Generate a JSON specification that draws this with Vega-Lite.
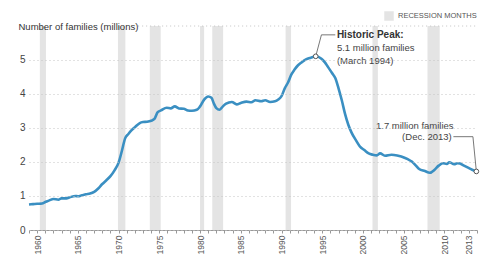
{
  "$schema": "https://vega.github.io/schema/vega-lite/v6.json",
  "width": 448,
  "height": 204,
  "autosize": {"type": "none"},
  "padding": {"left": 29, "top": 26, "right": 21, "bottom": 33},
  "background": "white",
  "config": {
    "font": "Liberation Sans",
    "view": {"stroke": null},
    "axisX": {
      "tickCount": 55,
      "labelExpr": "(datum.value % 5 === 0 || datum.value === 2013) ? format(datum.value, 'd') : ''",
      "labelOverlap": false, "labelAngle": 270, "labelFontSize": 8.5, "labelColor": "#555",
      "labelPadding": 2, "tickSize": 3, "tickColor": "#999", "domainColor": "#999",
      "grid": false
    },
    "axisY": {
      "tickCount": 6,
      "format": "d",
      "titleAngle": 0, "titleAlign": "left", "titleBaseline": "middle",
      "titleX": -11, "titleY": 0, "titleFontSize": 9.5, "titleFontWeight": "normal", "titleColor": "#333",
      "labelFontSize": 10, "labelColor": "#444", "labelPadding": 4,
      "ticks": false, "domain": false,
      "grid": true, "gridColor": "#c4c4c4", "gridDash": [1, 3], "gridWidth": 1
    }
  },
  "datasets": {
    "recessions": [
      {"start": 1960.33, "end": 1961.08, "label": "RECESSION MONTHS"},
      {"start": 1969.92, "end": 1970.83, "label": "RECESSION MONTHS"},
      {"start": 1973.83, "end": 1975.17, "label": "RECESSION MONTHS"},
      {"start": 1980.0, "end": 1980.5, "label": "RECESSION MONTHS"},
      {"start": 1981.5, "end": 1982.83, "label": "RECESSION MONTHS"},
      {"start": 1990.5, "end": 1991.17, "label": "RECESSION MONTHS"},
      {"start": 2001.17, "end": 2001.83, "label": "RECESSION MONTHS"},
      {"start": 2007.92, "end": 2009.42, "label": "RECESSION MONTHS"}
    ],
    "series": [
      {"year": 1959.0, "value": 0.75}, {"year": 1959.5, "value": 0.76}, {"year": 1960.0, "value": 0.77},
      {"year": 1960.6, "value": 0.78}, {"year": 1961.0, "value": 0.82}, {"year": 1961.5, "value": 0.87},
      {"year": 1962.0, "value": 0.91}, {"year": 1962.6, "value": 0.89}, {"year": 1963.0, "value": 0.93},
      {"year": 1963.6, "value": 0.93}, {"year": 1964.0, "value": 0.96}, {"year": 1964.7, "value": 1.0},
      {"year": 1965.0, "value": 0.99}, {"year": 1965.5, "value": 1.02}, {"year": 1966.0, "value": 1.05},
      {"year": 1966.5, "value": 1.07}, {"year": 1967.0, "value": 1.12}, {"year": 1967.5, "value": 1.22},
      {"year": 1968.0, "value": 1.35}, {"year": 1968.5, "value": 1.46}, {"year": 1969.0, "value": 1.58},
      {"year": 1969.5, "value": 1.75}, {"year": 1970.0, "value": 1.98}, {"year": 1970.4, "value": 2.32},
      {"year": 1970.8, "value": 2.69}, {"year": 1971.2, "value": 2.82}, {"year": 1971.6, "value": 2.93},
      {"year": 1972.0, "value": 3.02}, {"year": 1972.6, "value": 3.14}, {"year": 1973.0, "value": 3.17},
      {"year": 1973.5, "value": 3.18}, {"year": 1974.0, "value": 3.21}, {"year": 1974.4, "value": 3.26},
      {"year": 1974.8, "value": 3.46}, {"year": 1975.2, "value": 3.51}, {"year": 1975.9, "value": 3.59},
      {"year": 1976.4, "value": 3.57}, {"year": 1976.9, "value": 3.63}, {"year": 1977.4, "value": 3.57},
      {"year": 1978.0, "value": 3.56}, {"year": 1978.5, "value": 3.51}, {"year": 1979.0, "value": 3.5},
      {"year": 1979.6, "value": 3.53}, {"year": 1980.0, "value": 3.63}, {"year": 1980.5, "value": 3.83},
      {"year": 1981.0, "value": 3.92}, {"year": 1981.4, "value": 3.88}, {"year": 1981.7, "value": 3.71},
      {"year": 1982.0, "value": 3.58}, {"year": 1982.4, "value": 3.53}, {"year": 1982.8, "value": 3.63},
      {"year": 1983.2, "value": 3.71}, {"year": 1983.9, "value": 3.76}, {"year": 1984.5, "value": 3.69},
      {"year": 1985.0, "value": 3.73}, {"year": 1985.7, "value": 3.77}, {"year": 1986.3, "value": 3.75},
      {"year": 1986.8, "value": 3.81}, {"year": 1987.5, "value": 3.78}, {"year": 1988.0, "value": 3.81},
      {"year": 1988.6, "value": 3.76}, {"year": 1989.2, "value": 3.78}, {"year": 1989.6, "value": 3.83},
      {"year": 1990.0, "value": 3.93}, {"year": 1990.4, "value": 4.16}, {"year": 1990.8, "value": 4.33},
      {"year": 1991.2, "value": 4.56}, {"year": 1991.6, "value": 4.71}, {"year": 1992.0, "value": 4.83},
      {"year": 1992.4, "value": 4.91}, {"year": 1993.0, "value": 5.01}, {"year": 1993.6, "value": 5.06},
      {"year": 1994.2, "value": 5.1}, {"year": 1994.9, "value": 5.03}, {"year": 1995.3, "value": 4.93},
      {"year": 1995.7, "value": 4.79}, {"year": 1996.2, "value": 4.61}, {"year": 1996.6, "value": 4.46},
      {"year": 1997.0, "value": 4.16}, {"year": 1997.4, "value": 3.81}, {"year": 1997.8, "value": 3.41},
      {"year": 1998.2, "value": 3.09}, {"year": 1998.6, "value": 2.86}, {"year": 1999.2, "value": 2.61},
      {"year": 1999.6, "value": 2.46}, {"year": 2000.2, "value": 2.34}, {"year": 2000.7, "value": 2.25},
      {"year": 2001.2, "value": 2.21}, {"year": 2001.7, "value": 2.19}, {"year": 2002.1, "value": 2.25},
      {"year": 2002.7, "value": 2.18}, {"year": 2003.5, "value": 2.21}, {"year": 2004.2, "value": 2.19},
      {"year": 2004.7, "value": 2.16}, {"year": 2005.5, "value": 2.08}, {"year": 2006.0, "value": 2.01},
      {"year": 2006.5, "value": 1.89}, {"year": 2006.9, "value": 1.79}, {"year": 2007.6, "value": 1.73},
      {"year": 2008.2, "value": 1.68}, {"year": 2008.8, "value": 1.77}, {"year": 2009.3, "value": 1.89},
      {"year": 2009.8, "value": 1.96}, {"year": 2010.3, "value": 1.94}, {"year": 2010.6, "value": 1.99},
      {"year": 2011.2, "value": 1.93}, {"year": 2011.6, "value": 1.96}, {"year": 2011.9, "value": 1.95},
      {"year": 2012.4, "value": 1.89}, {"year": 2012.9, "value": 1.83}, {"year": 2013.4, "value": 1.77},
      {"year": 2013.92, "value": 1.72}
    ],
    "markers": [
      {"year": 1994.2, "value": 5.1},
      {"year": 2013.92, "value": 1.72}
    ],
    "leaders": [
      {"grp": "peak", "order": 1, "year": 1994.2, "value": 5.1},
      {"grp": "peak", "order": 2, "year": 1994.9, "value": 5.73},
      {"grp": "peak", "order": 3, "year": 1996.6, "value": 5.73},
      {"grp": "end", "order": 1, "year": 2011.1, "value": 2.74},
      {"grp": "end", "order": 2, "year": 2013.5, "value": 2.74},
      {"grp": "end", "order": 3, "year": 2013.92, "value": 1.72}
    ],
    "topGrid": [{"start": 1972.4, "end": 2014, "value": 5.99}],
    "peakTitle": [{"year": 1996.8, "value": 5.73, "text": "Historic Peak:"}],
    "peakText": [
      {"year": 1996.8, "value": 5.35, "text": "5.1 million families"},
      {"year": 1996.8, "value": 4.97, "text": "(March 1994)"}
    ],
    "endText1": [{"year": 2001.6, "value": 3.06, "text": "1.7 million families"}],
    "endText2": [{"year": 2010.9, "value": 2.74, "text": "(Dec. 2013)"}]
  },
  "layer": [
    {
      "data": {"name": "recessions"},
      "mark": {"type": "rect"},
      "encoding": {
        "x": {"field": "start", "type": "quantitative", "title": null, "scale": {"domain": [1959, 2014], "nice": false, "zero": false}},
        "x2": {"field": "end"},
        "fill": {
          "field": "label", "type": "nominal",
          "scale": {"domain": ["RECESSION MONTHS"], "range": ["#e4e4e4"]},
          "legend": {
            "title": null, "orient": "none", "legendX": 355, "legendY": -15,
            "padding": 0, "symbolType": "square", "symbolSize": 90, "symbolStrokeWidth": 0,
            "labelFontSize": 7.5, "labelColor": "#555", "labelOffset": 4
          }
        }
      }
    },
    {
      "data": {"name": "topGrid"},
      "mark": {"type": "rule", "color": "#c4c4c4", "strokeDash": [1, 3], "strokeWidth": 1},
      "encoding": {
        "x": {"field": "start", "type": "quantitative", "title": null, "scale": {"domain": [1959, 2014], "nice": false, "zero": false}},
        "x2": {"field": "end"},
        "y": {"field": "value", "type": "quantitative", "title": "Number of families (millions)", "scale": {"domain": [0, 5.99], "nice": false}, "axis": {"zindex": 1}}
      }
    },
    {
      "data": {"name": "series"},
      "mark": {"type": "line", "color": "#3a8fc2", "strokeWidth": 2.6, "interpolate": "monotone"},
      "encoding": {
        "x": {"field": "year", "type": "quantitative", "title": null, "scale": {"domain": [1959, 2014], "nice": false, "zero": false}},
        "y": {"field": "value", "type": "quantitative", "title": "Number of families (millions)", "scale": {"domain": [0, 5.99], "nice": false}, "axis": {"zindex": 1}}
      }
    },
    {
      "data": {"name": "leaders"},
      "mark": {"type": "line", "color": "#555", "strokeWidth": 0.8},
      "encoding": {
        "x": {"field": "year", "type": "quantitative", "title": null, "scale": {"domain": [1959, 2014], "nice": false, "zero": false}},
        "y": {"field": "value", "type": "quantitative", "title": "Number of families (millions)", "scale": {"domain": [0, 5.99], "nice": false}, "axis": {"zindex": 1}},
        "detail": {"field": "grp"},
        "order": {"field": "order"}
      }
    },
    {
      "data": {"name": "markers"},
      "mark": {"type": "point", "shape": "circle", "filled": true, "fill": "white", "stroke": "#555", "strokeWidth": 1, "size": 22, "opacity": 1},
      "encoding": {
        "x": {"field": "year", "type": "quantitative", "title": null, "scale": {"domain": [1959, 2014], "nice": false, "zero": false}},
        "y": {"field": "value", "type": "quantitative", "title": "Number of families (millions)", "scale": {"domain": [0, 5.99], "nice": false}, "axis": {"zindex": 1}}
      }
    },
    {
      "data": {"name": "peakTitle"},
      "mark": {"type": "text", "align": "left", "baseline": "middle", "fontSize": 10, "fontWeight": "bold", "color": "#333"},
      "encoding": {
        "x": {"field": "year", "type": "quantitative", "title": null, "scale": {"domain": [1959, 2014], "nice": false, "zero": false}},
        "y": {"field": "value", "type": "quantitative", "title": "Number of families (millions)", "scale": {"domain": [0, 5.99], "nice": false}, "axis": {"zindex": 1}},
        "text": {"field": "text"}
      }
    },
    {
      "data": {"name": "peakText"},
      "mark": {"type": "text", "align": "left", "baseline": "middle", "fontSize": 9.5, "color": "#444"},
      "encoding": {
        "x": {"field": "year", "type": "quantitative", "title": null, "scale": {"domain": [1959, 2014], "nice": false, "zero": false}},
        "y": {"field": "value", "type": "quantitative", "title": "Number of families (millions)", "scale": {"domain": [0, 5.99], "nice": false}, "axis": {"zindex": 1}},
        "text": {"field": "text"}
      }
    },
    {
      "data": {"name": "endText1"},
      "mark": {"type": "text", "align": "left", "baseline": "middle", "fontSize": 9.5, "color": "#444"},
      "encoding": {
        "x": {"field": "year", "type": "quantitative", "title": null, "scale": {"domain": [1959, 2014], "nice": false, "zero": false}},
        "y": {"field": "value", "type": "quantitative", "title": "Number of families (millions)", "scale": {"domain": [0, 5.99], "nice": false}, "axis": {"zindex": 1}},
        "text": {"field": "text"}
      }
    },
    {
      "data": {"name": "endText2"},
      "mark": {"type": "text", "align": "right", "baseline": "middle", "fontSize": 9.5, "color": "#444"},
      "encoding": {
        "x": {"field": "year", "type": "quantitative", "title": null, "scale": {"domain": [1959, 2014], "nice": false, "zero": false}},
        "y": {"field": "value", "type": "quantitative", "title": "Number of families (millions)", "scale": {"domain": [0, 5.99], "nice": false}, "axis": {"zindex": 1}},
        "text": {"field": "text"}
      }
    }
  ]
}
